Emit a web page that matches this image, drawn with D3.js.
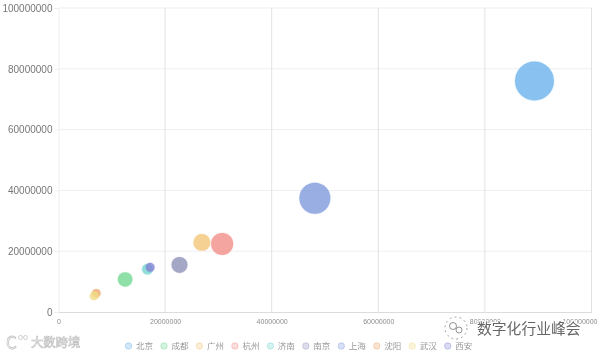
<!DOCTYPE html>
<html>
<head>
<meta charset="utf-8">
<script src="https://cdn.jsdelivr.net/npm/d3@7"></script>
<style>
  html, body { margin: 0; padding: 0; background: #fff; overflow: hidden; }
  svg { display: block; filter: blur(0.3px); }
  text { font-family: "Noto Sans CJK SC", "Liberation Sans", sans-serif; }
  .tick-label { font-family: "Liberation Sans", Arial, sans-serif; }
</style>
</head>
<body>
<svg id="chart"></svg>
<script>
const cities = ["北京", "成都", "广州", "杭州", "济南", "南京", "上海", "沈阳", "武汉", "西安"];
const xValues = [89300000, 12500000, 26900000, 30700000, 16700000, 22700000, 48100000, 7100000, 6700000, 17200000];
const yValues = [76000000, 10700000, 22900000, 22400000, 14100000, 15500000, 37400000, 6200000, 5300000, 14700000];
const sizes = [380, 53, 72, 121, 30, 64, 240, 18, 20, 20];
const colors = ["#6bb3ec", "#72d892", "#f2c679", "#f28f88", "#74d5d0", "#8f91b8", "#7f9bdc", "#eba76b", "#f1dc88", "#8583d4"];
const xTicks = [0, 20000000, 40000000, 60000000, 80000000, 100000000];
const yTicks = [0, 20000000, 40000000, 60000000, 80000000, 100000000];

const width = 600, height = 355;
const margin = { top: 8, right: 8.5, bottom: 43, left: 58.5 };

const svg = d3.select("#chart").attr("width", width).attr("height", height);

const xScale = d3.scaleLinear().domain([0, 100000000]).range([margin.left, width - margin.right]);
const yScale = d3.scaleLinear().domain([0, 100000000]).range([height - margin.bottom, margin.top]);
const rScale = d3.scaleSqrt().domain([0, 380]).range([0, 19.5]);

// grid lines
svg.append("g").selectAll("line")
  .data(yTicks.slice(1))
  .join("line")
  .attr("x1", margin.left).attr("x2", width - margin.right)
  .attr("y1", d => yScale(d)).attr("y2", d => yScale(d))
  .attr("stroke", "#efefef");

svg.append("g").selectAll("line")
  .data(xTicks.slice(1))
  .join("line")
  .attr("x1", d => xScale(d)).attr("x2", d => xScale(d))
  .attr("y1", margin.top).attr("y2", height - margin.bottom)
  .attr("stroke", "#e2e2e2");

// axes
const xAxis = d3.axisBottom(xScale).tickValues(xTicks).tickSize(0).tickPadding(7).tickFormat(d3.format("d"));
const yAxis = d3.axisLeft(yScale).tickValues(yTicks).tickSize(4).tickPadding(2).tickFormat(d3.format("d"));

const xAxisG = svg.append("g")
  .attr("transform", `translate(0,${height - margin.bottom})`)
  .call(xAxis);
xAxisG.select(".domain").attr("stroke", "#dcdcdc");
xAxisG.selectAll("text")
  .attr("class", "tick-label")
  .attr("fill", "#8c8c8c")
  .style("font-size", "7px")
  // last label is pulled in so it stays on the page
  .filter(d => d === 100000000)
  .attr("text-anchor", "end")
  .attr("dx", 5.5);

const yAxisG = svg.append("g")
  .attr("transform", `translate(${margin.left},0)`)
  .call(yAxis);
yAxisG.select(".domain").attr("stroke", "#eceff3");
yAxisG.selectAll("line").attr("stroke", "#eceff3");
yAxisG.selectAll("text")
  .attr("class", "tick-label")
  .attr("fill", "#777")
  .style("font-size", "10px");

// bubbles
const bubbleData = cities.map((city, i) => ({ city, x: xValues[i], y: yValues[i], size: sizes[i], color: colors[i] }));

svg.append("g").selectAll("circle")
  .data(bubbleData)
  .join("circle")
  .attr("cx", d => xScale(d.x))
  .attr("cy", d => yScale(d.y))
  .attr("r", d => rScale(d.size))
  .attr("fill", d => d.color)
  .attr("fill-opacity", 0.8)
  .attr("stroke", d => d.color)
  .attr("stroke-opacity", 0.15)
  .attr("stroke-width", 1.5);

// legend
const legendX = d3.scalePoint().domain(cities).range([128.5, 447.7]);
const legend = svg.append("g").selectAll("g")
  .data(bubbleData)
  .join("g")
  .attr("transform", d => `translate(${legendX(d.city)},346)`);

legend.append("circle")
  .attr("r", 3.2)
  .attr("fill", d => d.color)
  .attr("fill-opacity", 0.3)
  .attr("stroke", d => d.color)
  .attr("stroke-opacity", 0.4);

legend.append("text")
  .attr("x", 7.5)
  .attr("y", 3)
  .attr("fill", "#999")
  .style("font-size", "8.5px")
  .text(d => d.city);

// watermarks
const markLeft = svg.append("g").attr("fill", "#fff").attr("stroke", "#c4c4c4");
markLeft.append("text")
  .attr("x", 31).attr("y", 347)
  .attr("stroke-width", 0.7)
  .style("font-size", "12.3px")
  .text("大数跨境");
markLeft.append("text")
  .attr("x", 6).attr("y", 349)
  .attr("stroke-width", 0.8)
  .style("font-size", "17px")
  .text("C");
markLeft.append("circle").attr("cx", 20.5).attr("cy", 337.5).attr("r", 2).attr("stroke-width", 0.8);
markLeft.append("circle").attr("cx", 25.5).attr("cy", 337.5).attr("r", 2).attr("stroke-width", 0.8);

svg.append("g").attr("transform", "translate(456,328)")
  .call(g => {
    g.append("circle").attr("r", 11).attr("fill", "#fff").attr("fill-opacity", 0.7)
      .attr("stroke", "#888").attr("stroke-width", 0.8).attr("stroke-dasharray", "2,3");
    g.append("circle").attr("cx", -3).attr("cy", -2).attr("r", 3.5).attr("fill", "none").attr("stroke", "#777").attr("stroke-width", 0.8);
    g.append("circle").attr("cx", 3).attr("cy", 2).attr("r", 3).attr("fill", "none").attr("stroke", "#777").attr("stroke-width", 0.8);
  });
svg.append("text")
  .attr("x", 477).attr("y", 333.5)
  .attr("fill", "#666").attr("stroke", "#fff").attr("stroke-width", 2).attr("paint-order", "stroke")
  .style("font-size", "14.8px")
  .text("数字化行业峰会");
</script>
</body>
</html>
